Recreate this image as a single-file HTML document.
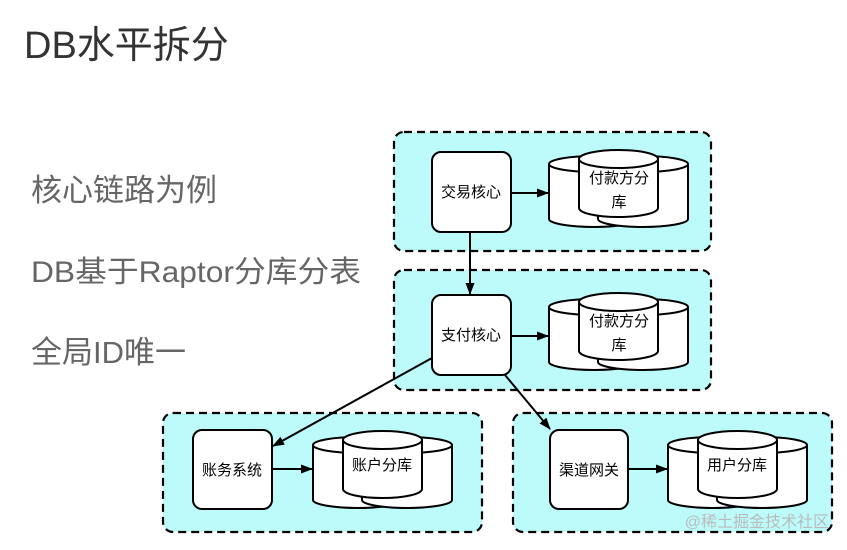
<!DOCTYPE html>
<html><head><meta charset="utf-8"><style>
body{margin:0;background:#fff;width:847px;height:550px;overflow:hidden}
svg{display:block}
text{font-family:"Liberation Sans","Noto Sans CJK SC",sans-serif}
</style></head><body>
<svg width="847" height="550" viewBox="0 0 847 550">
<defs>
<marker id="a" markerWidth="12" markerHeight="12" refX="11" refY="6" orient="auto" markerUnits="userSpaceOnUse">
<path d="M0,1.5 L12,6 L0,10.5 Z" fill="#000"/></marker>
<g id="cyl" stroke="#000" stroke-width="2" fill="#fff">
<path d="M0,14 L0,69 A45,8 0 0 0 90,69 L90,14"/><ellipse cx="45" cy="14" rx="45" ry="8"/>
<path d="M49,14 L49,69 A45,8 0 0 0 139,69 L139,14"/><ellipse cx="94" cy="14" rx="45" ry="8"/>
<path d="M30,9 L30,58 A39.5,9 0 0 0 109,58 L109,9"/><ellipse cx="69.5" cy="9" rx="39.5" ry="9"/>
</g>
</defs>
<text x="24" y="58" font-size="38" fill="#333">DB水平拆分</text>
<text x="31" y="201" font-size="31" fill="#666">核心链路为例</text>
<text x="31" y="282" font-size="30" fill="#666" textLength="330" lengthAdjust="spacingAndGlyphs">DB基于Raptor分库分表</text>
<text x="31" y="363" font-size="31" fill="#666">全局ID唯一</text>

<g fill="#bdfbfb" stroke="#000" stroke-width="2.2" stroke-dasharray="8,5">
<rect x="394" y="132" width="317" height="119" rx="10"/>
<rect x="394" y="270" width="317" height="120" rx="10"/>
<rect x="163" y="413" width="319" height="119" rx="10"/>
<rect x="513" y="413" width="319" height="119" rx="10"/>
</g>

<g fill="#fff" stroke="#000" stroke-width="2">
<rect x="432" y="152" width="79" height="80" rx="9"/>
<rect x="432" y="295" width="79" height="80" rx="9"/>
<rect x="193" y="430" width="79" height="79" rx="9"/>
<rect x="550" y="430" width="78" height="79" rx="9"/>
</g>
<use href="#cyl" x="549" y="150"/>
<use href="#cyl" x="549" y="293"/>
<use href="#cyl" x="313" y="431"/>
<use href="#cyl" x="668" y="431"/>

<g stroke="#000" stroke-width="2" marker-end="url(#a)">
<line x1="511" y1="193" x2="548" y2="193"/>
<line x1="511" y1="336" x2="548" y2="336"/>
<line x1="272" y1="469" x2="312" y2="469"/>
<line x1="628" y1="469" x2="667" y2="469"/>
<line x1="470" y1="232" x2="470" y2="294"/>
<line x1="432" y1="358" x2="273" y2="446"/>
<line x1="505" y1="375" x2="550" y2="429"/>
</g>

<g font-size="15" fill="#000" text-anchor="middle">
<text x="471" y="197">交易核心</text>
<text x="471" y="340">支付核心</text>
<text x="232" y="475">账务系统</text>
<text x="589" y="475">渠道网关</text>
<text x="619" y="183">付款方分</text><text x="619" y="207">库</text>
<text x="619" y="326">付款方分</text><text x="619" y="350">库</text>
<text x="382" y="470">账户分库</text>
<text x="737" y="470">用户分库</text>
</g>
<text x="829" y="527" font-size="16" fill="#bbb" text-anchor="end">@稀土掘金技术社区</text>
</svg>
</body></html>
